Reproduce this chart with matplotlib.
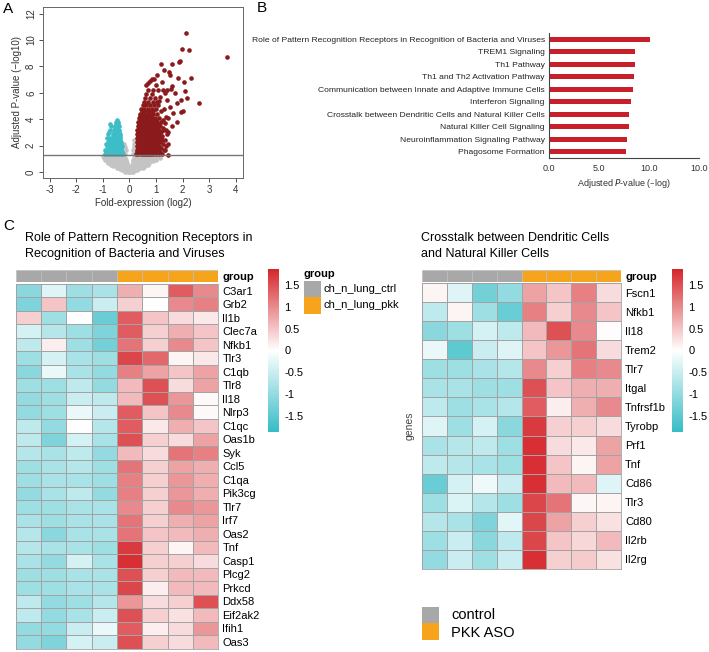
import numpy as np
import matplotlib.pyplot as plt
from matplotlib.colors import LinearSegmentedColormap
from matplotlib.patches import Rectangle

plt.rcParams['font.family'] = ['Liberation Sans', 'DejaVu Sans']
plt.rcParams['axes.unicode_minus'] = False

W, H = 709, 652

# ---------------- data: volcano (A) ----------------
# rows of (log10 p, [fold changes])
up_rows = [
    (1.40, [0.26, 0.34, 0.42, 0.50, 0.58, 0.66, 0.74, 0.82, 0.90, 1.00, 1.10, 1.24]),
    (1.55, [0.30, 0.38, 0.46, 0.54, 0.62, 0.70, 0.78, 0.86, 0.95, 1.16]),
    (1.70, [0.27, 0.35, 0.43, 0.51, 0.59, 0.67, 0.75, 0.84, 0.93, 1.05, 1.30]),
    (1.85, [0.31, 0.39, 0.47, 0.55, 0.63, 0.71, 0.80, 0.89, 1.00, 1.20]),
    (2.00, [0.28, 0.36, 0.44, 0.52, 0.60, 0.68, 0.77, 0.86, 0.96, 1.12, 1.38]),
    (2.15, [0.32, 0.40, 0.48, 0.56, 0.65, 0.74, 0.83, 0.92, 1.04, 1.26]),
    (2.30, [0.28, 0.36, 0.44, 0.53, 0.61, 0.70, 0.79, 0.88, 0.98, 1.16]),
    (2.45, [0.32, 0.40, 0.49, 0.57, 0.66, 0.75, 0.85, 0.95, 1.08, 1.34]),
    (2.60, [0.29, 0.37, 0.45, 0.54, 0.62, 0.71, 0.80, 0.90, 1.02, 1.18]),
    (2.75, [0.33, 0.41, 0.50, 0.58, 0.67, 0.76, 0.87, 0.98, 1.24]),
    (2.90, [0.30, 0.38, 0.46, 0.55, 0.63, 0.72, 0.82, 0.93, 1.06, 1.40]),
    (3.05, [0.34, 0.42, 0.51, 0.60, 0.69, 0.79, 0.90, 1.03, 1.20]),
    (3.20, [0.30, 0.39, 0.47, 0.56, 0.65, 0.74, 0.85, 0.97, 1.10, 1.30]),
    (3.35, [0.35, 0.44, 0.53, 0.62, 0.71, 0.81, 0.93, 1.05]),
    (3.50, [0.32, 0.40, 0.49, 0.58, 0.67, 0.77, 0.88, 1.00, 1.16]),
    (3.65, [0.37, 0.46, 0.55, 0.64, 0.74, 0.84, 0.95, 1.10]),
    (3.80, [0.34, 0.42, 0.51, 0.60, 0.70, 0.80, 0.92, 1.05, 1.20]),
    (3.95, [0.39, 0.48, 0.57, 0.67, 0.77, 0.88, 1.00]),
    (4.10, [0.36, 0.45, 0.54, 0.63, 0.73, 0.84, 0.96, 1.12]),
    (4.25, [0.41, 0.50, 0.60, 0.70, 0.81]),
    (4.40, [0.40, 0.52, 0.66, 0.79, 0.90, 1.03]),
    (4.60, [0.46, 0.58, 0.72, 0.87]),
    (4.80, [0.44, 0.56, 0.70, 0.85, 0.98]),
    (5.05, [0.50, 0.64, 0.78, 0.94]),
    (5.30, [0.55, 0.70, 0.88, 1.02]),
    (5.60, [0.60, 0.78, 0.96]),
    (5.90, [0.64, 0.83]),
    (6.25, [0.70, 0.90]),
]
up_x = [2.12, 1.96, 2.24, 3.65, 1.90, 1.86, 1.19, 1.60, 1.31, 1.47, 1.02, 1.52,
        2.30, 1.84, 0.84, 0.92, 1.24, 0.69, 2.05, 1.61, 2.09, 1.07, 1.25, 1.42,
        1.55, 1.15, 2.15, 1.92, 2.61, 1.77, 2.00, 1.95, 1.70, 1.34, 1.40, 1.52,
        1.65, 1.46, 1.77, 1.34, 1.27, 1.59, 1.46, 1.12, 1.22, 1.46, 1.12, 1.32,
        1.46, 1.30, 1.38, 1.18, 1.08, 1.28, 0.78, 0.98, 1.14, 0.62, 1.36, 1.10]
up_y = [10.53, 9.30, 9.26, 8.70, 8.43, 8.33, 8.17, 8.17, 7.74, 7.59, 7.36, 7.36,
        7.10, 7.10, 7.03, 7.03, 6.85, 6.73, 6.85, 6.55, 6.17, 6.22, 6.22, 6.22,
        6.27, 5.71, 5.58, 5.46, 5.25, 5.20, 4.64, 4.57, 5.96, 5.96, 5.46, 4.95,
        4.44, 4.06, 3.81, 3.68, 3.30, 3.48, 3.05, 2.92, 2.41, 2.16, 1.78, 1.65,
        1.32, 4.80, 4.20, 4.60, 5.10, 3.95, 6.90, 6.60, 2.70, 6.60, 3.20, 5.40]

down_rows = [
    (1.40, [-0.92, -0.82, -0.72, -0.62, -0.52, -0.42, -0.32, -0.26]),
    (1.55, [-0.87, -0.77, -0.67, -0.57, -0.47, -0.37, -0.29]),
    (1.70, [-0.90, -0.78, -0.68, -0.58, -0.48, -0.38, -0.30]),
    (1.85, [-0.82, -0.72, -0.62, -0.52, -0.42, -0.33]),
    (2.00, [-0.85, -0.74, -0.64, -0.55, -0.45, -0.35, -0.28]),
    (2.15, [-0.88, -0.78, -0.68, -0.59, -0.49, -0.40, -0.31]),
    (2.30, [-0.80, -0.70, -0.60, -0.50, -0.40, -0.31]),
    (2.45, [-0.73, -0.63, -0.54, -0.45, -0.36]),
    (2.60, [-0.86, -0.76, -0.66, -0.56, -0.47, -0.37]),
    (2.75, [-0.60, -0.51, -0.42, -0.34]),
    (2.90, [-0.80, -0.62, -0.53, -0.44, -0.36]),
    (3.05, [-0.75, -0.57, -0.48, -0.40]),
    (3.20, [-0.72, -0.58, -0.50, -0.41]),
    (3.35, [-0.54, -0.45]),
    (3.50, [-0.70, -0.55, -0.46, -0.40]),
    (3.65, [-0.72, -0.50, -0.43]),
    (3.80, [-0.52, -0.44]),
    (3.98, [-0.47]),
]

ns_rows = [
    (0.03, [-0.15, -0.07, 0.00, 0.07, 0.15]),
    (0.12, [-0.28, -0.20, -0.12, 0.12, 0.20, 0.28]),
    (0.20, [-0.36, -0.26, -0.17, -0.09, -0.02, 0.04, 0.12, 0.21, 0.32]),
    (0.32, [-0.48, -0.38, -0.28, -0.19, -0.10, 0.08, 0.17, 0.27, 0.38, 0.50]),
    (0.45, [-0.60, -0.48, -0.38, -0.28, -0.19, -0.10, -0.04, 0.07, 0.14, 0.23, 0.33, 0.45, 0.58]),
    (0.57, [-0.70, -0.60, -0.50, -0.40, -0.30, -0.21, -0.12, 0.10, 0.18, 0.27, 0.37, 0.48, 0.60, 0.70]),
    (0.70, [-0.80, -0.68, -0.57, -0.46, -0.36, -0.26, -0.17, -0.09, 0.12, 0.20, 0.30, 0.40, 0.50, 0.62, 0.75]),
    (0.82, [-0.86, -0.75, -0.64, -0.54, -0.44, -0.34, -0.24, -0.14, 0.14, 0.22, 0.32, 0.42, 0.52, 0.63, 0.75, 0.88]),
    (0.95, [-0.92, -0.80, -0.70, -0.60, -0.50, -0.40, -0.30, -0.20, -0.13, 0.15, 0.24, 0.34, 0.44, 0.54, 0.64, 0.74, 0.85, 0.98]),
    (1.08, [-0.95, -0.84, -0.74, -0.64, -0.54, -0.44, -0.34, -0.24, -0.16, 0.18, 0.26, 0.36, 0.46, 0.56, 0.66, 0.76, 0.88, 1.00, 1.15]),
    (1.20, [-0.98, -0.88, -0.78, -0.68, -0.58, -0.48, -0.38, -0.28, -0.20, 0.22, 0.30, 0.40, 0.50, 0.60, 0.70, 0.80, 0.90, 1.00, 1.10]),
    (1.40, [-0.22, -0.15, 0.14, 0.20]),
    (1.65, [-0.22, -0.14, 0.15, 0.21]),
    (1.90, [-0.21, -0.15, 0.16]),
    (2.15, [-0.20, 0.17]),
    (2.40, [0.19]),
]

# ---------------- data: pathways (B) ----------------
pathways = [
    'Role of Pattern Recognition Receptors in Recognition of Bacteria and Viruses',
    'TREM1 Signaling',
    'Th1 Pathway',
    'Th1 and Th2 Activation Pathway',
    'Communication between Innate and Adaptive Immune Cells',
    'Interferon Signaling',
    'Crosstalk between Dendritic Cells and Natural Killer Cells',
    'Natural Killer Cell Signaling',
    'Neuroinflammation Signaling Pathway',
    'Phagosome Formation',
]
path_logp = [10.1, 8.55, 8.55, 8.45, 8.35, 8.2, 7.95, 7.95, 7.8, 7.7]
b_ticks = [0, 5, 10, 15]
b_ticklabels = ['0.0', '5.0', '10.0', '10.0']

# ---------------- data: heatmaps (C) ----------------
groups = ['ctrl'] * 4 + ['pkk'] * 4

prr_genes = ['C3ar1', 'Grb2', 'Il1b', 'Clec7a', 'Nfkb1', 'Tlr3', 'C1qb', 'Tlr8', 'Il18',
             'Nlrp3', 'C1qc', 'Oas1b', 'Syk', 'Ccl5', 'C1qa', 'Pik3cg', 'Tlr7', 'Irf7',
             'Oas2', 'Tnf', 'Casp1', 'Plcg2', 'Prkcd', 'Ddx58', 'Eif2ak2', 'Ifih1', 'Oas3']
prr_z = [
    [-1.1, -0.3, -0.9, -0.8, 0.7, 0.1, 1.4, 1.0],
    [-1.2, 0.5, -1.0, -0.5, 0.4, 0.0, 1.0, 1.1],
    [0.4, -0.9, 0.0, -1.4, 1.4, 0.5, 0.3, 0.2],
    [-0.4, -0.7, -0.9, -1.2, 1.4, 0.4, 0.7, 0.5],
    [-0.6, 0.15, -0.9, -1.3, 1.2, 0.4, 1.0, 0.5],
    [-0.9, -0.4, -0.8, -0.9, 1.6, 1.3, 0.1, 0.2],
    [-1.1, -0.2, -0.8, -1.0, 1.1, 0.8, 0.5, 0.8],
    [-0.9, -0.9, -0.6, -1.0, 0.6, 1.5, 0.3, 0.8],
    [-1.0, -0.9, -0.5, -0.6, 0.6, 1.5, 0.9, 0.05],
    [-1.0, -0.9, -0.2, -0.5, 1.4, 0.5, 1.0, 0.05],
    [-0.6, -1.0, 0.0, -0.7, 1.4, 0.2, 0.7, 0.5],
    [-0.6, -1.2, -0.4, -0.8, 1.5, 0.4, 0.3, 0.8],
    [-0.7, -0.8, -0.6, -1.0, 0.6, 0.3, 1.2, 1.1],
    [-0.9, -0.8, -0.7, -0.9, 1.2, 0.4, 0.8, 0.7],
    [-0.9, -0.8, -0.8, -0.9, 1.1, 0.4, 0.9, 0.7],
    [-1.0, -0.8, -0.6, -1.0, 1.1, 0.4, 0.9, 0.7],
    [-0.9, -0.9, -0.8, -0.8, 1.0, 0.4, 1.0, 0.9],
    [-0.8, -0.9, -0.8, -0.8, 1.2, 0.4, 0.7, 0.8],
    [-0.7, -1.1, -0.8, -0.8, 1.2, 0.5, 0.6, 0.7],
    [-0.7, -0.8, -0.8, -0.9, 1.7, 0.4, 0.1, 0.6],
    [-0.8, -1.0, -0.4, -0.8, 1.8, 0.4, 0.4, 0.3],
    [-0.9, -0.9, -0.8, -0.8, 1.5, 0.4, 0.6, 0.6],
    [-0.9, -0.9, -0.8, -0.8, 1.6, 0.15, 0.6, 0.6],
    [-0.6, -1.0, -0.9, -0.7, 0.9, 0.3, 0.4, 1.5],
    [-0.6, -1.0, -0.8, -0.5, 1.5, 0.4, 0.25, 0.6],
    [-1.0, -1.0, -0.5, -0.2, 1.4, 0.15, 0.3, 0.9],
    [-1.0, -1.2, -0.4, -0.5, 1.5, 0.4, 0.3, 0.6],
]

dc_genes = ['Fscn1', 'Nfkb1', 'Il18', 'Trem2', 'Tlr7', 'Itgal', 'Tnfrsf1b', 'Tyrobp',
            'Prf1', 'Tnf', 'Cd86', 'Tlr3', 'Cd80', 'Il2rb', 'Il2rg']
dc_z = [
    [0.1, -0.3, -1.3, -1.0, 0.8, 0.5, 1.1, 0.3],
    [-0.6, 0.1, -0.9, -1.4, 1.1, 0.4, 1.0, 0.5],
    [-1.1, -0.9, -0.4, -0.6, 0.6, 1.5, 1.0, 0.02],
    [-0.2, -1.5, -0.5, -0.3, 0.5, 0.9, 1.2, 0.3],
    [-0.9, -0.9, -0.8, -0.7, 1.0, 0.4, 1.1, 1.0],
    [-0.8, -0.8, -0.9, -0.9, 1.5, 0.5, 0.7, 0.7],
    [-0.6, -0.9, -0.8, -0.7, 1.4, 0.15, 0.7, 1.0],
    [-0.3, -0.9, -0.4, -1.1, 1.7, 0.4, 0.4, 0.3],
    [-0.8, -0.7, -0.6, -0.9, 1.8, 0.3, 0.2, 0.8],
    [-0.6, -0.7, -0.8, -0.9, 1.8, 0.5, 0.1, 0.8],
    [-1.4, -0.4, -0.15, -0.5, 1.8, 0.6, 0.6, -0.3],
    [-0.9, -0.35, -0.7, -0.9, 1.6, 1.2, 0.08, 0.1],
    [-0.7, -0.8, -1.2, -0.25, 1.6, 0.8, 0.4, 0.25],
    [-0.9, -0.5, -1.1, -0.6, 1.6, 0.5, 0.35, 0.6],
    [-1.0, -0.5, -0.9, -0.5, 1.8, 0.4, 0.45, 0.25],
]
cbar_ticks = [1.5, 1, 0.5, 0, -0.5, -1, -1.5]

# colours
RED_PT, TEAL_PT, GREY_PT = '#8b1a1c', '#3dbdc7', '#c4c4c4'
BAR_RED = '#c7202b'
CTRL_C, PKK_C = '#a8a8a8', '#f6a41c'
hm_cmap = LinearSegmentedColormap.from_list('tw', ['#36bcc6', '#ffffff', '#d5262b'])
VLIM = 1.88


def fax(x0, y0, x1, y1):
    # pixel box (top-left origin) -> figure axes
    return fig.add_axes([x0 / W, 1 - y1 / H, (x1 - x0) / W, (y1 - y0) / H])


fig = plt.figure(figsize=(W / 100, H / 100), dpi=100)

# overlay in pixel coordinates for free text and legend boxes
ov = fig.add_axes([0, 0, 1, 1])
ov.set_xlim(0, W)
ov.set_ylim(H, 0)
ov.axis('off')

# ---------------- A: volcano ----------------
axA = fax(43, 7, 243, 178)
ns_x = [x for y, xs in ns_rows for x in xs]
ns_y = [y for y, xs in ns_rows for x in xs]
dn_x = [x for y, xs in down_rows for x in xs]
dn_y = [y for y, xs in down_rows for x in xs]
upx = [x for y, xs in up_rows for x in xs] + up_x
upy = [y for y, xs in up_rows for x in xs] + up_y
axA.scatter(ns_x, ns_y, s=11, color=GREY_PT, lw=0)
axA.scatter(dn_x, dn_y, s=11, color=TEAL_PT, lw=0)
axA.scatter(upx, upy, s=11, color=RED_PT, lw=0)
axA.axhline(1.3, color='#777777', lw=1)
axA.set_xlim(-3.25, 4.27)
axA.set_ylim(-0.45, 12.5)
axA.set_xticks(range(-3, 5))
axA.set_yticks(range(0, 13, 2))
axA.set_yticklabels([str(v) for v in range(0, 13, 2)], rotation=90, va='center')
axA.tick_params(labelsize=7, colors='#333333', length=3, width=0.6, pad=2)
for s in axA.spines.values():
    s.set_color('#666666')
    s.set_linewidth(0.7)
axA.set_xlabel('Fold-expression (log2)', fontsize=7, color='#333333', labelpad=2)
axA.set_ylabel('Adjusted P-value (\u2212log10)', fontsize=7, color='#333333', labelpad=3)
ov.text(3, 9, 'A', fontsize=11, va='center', ha='left')

# ---------------- B: pathway bars ----------------
axB = fax(549, 33, 699, 158)
yb = np.arange(len(pathways))
axB.barh(yb, path_logp, height=0.38, color=BAR_RED)
axB.set_ylim(len(pathways) - 0.5, -0.5)
axB.set_xlim(0, 15)
axB.set_yticks(yb)
axB.set_yticklabels(pathways, fontsize=6.1, color='#222222')
axB.set_xticks(b_ticks)
axB.set_xticklabels(b_ticklabels, fontsize=6.5, color='#333333')
axB.tick_params(axis='y', length=0, pad=3)
axB.tick_params(axis='x', length=0, pad=4)
for k in ['top', 'right']:
    axB.spines[k].set_visible(False)
for k in ['left', 'bottom']:
    axB.spines[k].set_color('#444444')
    axB.spines[k].set_linewidth(0.8)
axB.set_xlabel('Adjusted $\\it{P}$-value (\u2013log)', fontsize=6.5, color='#333333', labelpad=3)
ov.text(257, 8, 'B', fontsize=11, va='center', ha='left')

# ---------------- C: heatmaps ----------------
ov.text(3, 226, 'C', fontsize=11, va='center', ha='left')


def heatmap(x0, x1, y_top, y_bot, genes, z, title, title_x):
    gax = fax(x0, 270, x1, 281.5)
    gcols = [CTRL_C if g == 'ctrl' else PKK_C for g in groups]
    for i, c in enumerate(gcols):
        gax.add_patch(Rectangle((i, 0), 1, 1, facecolor=c, edgecolor='#bdbdbd', lw=0.5))
    gax.set_xlim(0, len(groups))
    gax.set_ylim(0, 1)
    gax.set_xticks([])
    gax.yaxis.tick_right()
    gax.set_yticks([0.5])
    gax.set_yticklabels(['group'], fontsize=8, fontweight='bold')
    gax.tick_params(length=0, pad=3)
    for s in gax.spines.values():
        s.set_visible(False)

    hax = fax(x0, y_top, x1, y_bot)
    hax.pcolormesh(np.arange(len(groups) + 1), np.arange(len(genes) + 1), np.array(z),
                   cmap=hm_cmap, vmin=-VLIM, vmax=VLIM, edgecolors='#a3a3a3', linewidth=0.5)
    hax.set_xlim(0, len(groups))
    hax.set_ylim(len(genes), 0)
    hax.set_xticks([])
    hax.yaxis.tick_right()
    hax.set_yticks(np.arange(len(genes)) + 0.5)
    hax.set_yticklabels(genes, fontsize=8)
    hax.tick_params(length=0, pad=3)
    for s in hax.spines.values():
        s.set_color('#a3a3a3')
        s.set_linewidth(0.6)
    ov.text(title_x, 246, title, fontsize=9, va='center', ha='left', linespacing=1.35)
    return hax


heatmap(15.7, 218.3, 284, 648.5, prr_genes, prr_z,
        'Role of Pattern Recognition Receptors in\nRecognition of Bacteria and Viruses', 25)
hr = heatmap(422, 621, 283, 569, dc_genes, dc_z,
             'Crosstalk between Dendritic Cells\nand Natural Killer Cells', 421)
hr.set_ylabel('genes', fontsize=7.5, color='#444444', labelpad=5)

sm = plt.cm.ScalarMappable(cmap=hm_cmap, norm=plt.Normalize(-VLIM, VLIM))
for cx in [268, 672]:
    cax = fax(cx, 269, cx + 11, 432)
    cb = fig.colorbar(sm, cax=cax, ticks=cbar_ticks)
    cb.set_ticklabels([f'{t:g}' for t in cbar_ticks])
    cb.outline.set_visible(False)
    cax.tick_params(length=0, labelsize=8, pad=4)

# group legend between heatmaps
ov.text(304, 274, 'group', fontsize=8, fontweight='bold', va='center')
ov.add_patch(Rectangle((304, 281), 17, 16, facecolor=CTRL_C, lw=0))
ov.add_patch(Rectangle((304, 297), 17, 17, facecolor=PKK_C, lw=0))
ov.text(323, 289, 'ch_n_lung_ctrl', fontsize=8, va='center')
ov.text(323, 305, 'ch_n_lung_pkk', fontsize=8, va='center')

# bottom legend
ov.add_patch(Rectangle((422, 607), 17, 16, facecolor=CTRL_C, lw=0))
ov.add_patch(Rectangle((422, 623), 17, 17, facecolor=PKK_C, lw=0))
ov.text(451, 615, 'control', fontsize=10.5, va='center')
ov.text(451, 633, 'PKK ASO', fontsize=10.5, va='center')

fig.savefig('out.png', dpi=100)
